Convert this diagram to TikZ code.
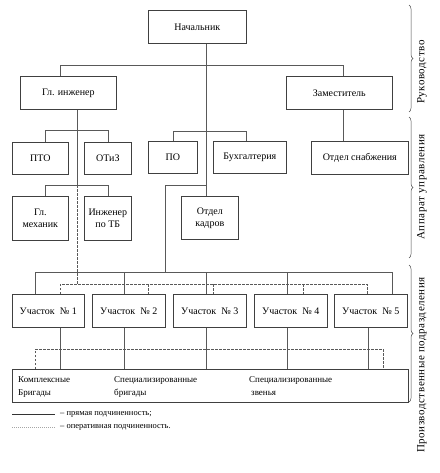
\documentclass[tikz,border=0pt]{standalone}
\usepackage{fontspec}
\setmainfont{Liberation Serif}
\usetikzlibrary{decorations.pathreplacing}
\begin{document}
\begin{tikzpicture}[x=1pt,y=-1pt,
  box/.style={draw=black!75, line width=0.6pt, fill=white, inner sep=1pt, align=center,
    font=\fontsize{10}{12}\selectfont, anchor=north west},
  ln/.style={draw=black!65, line width=0.6pt},
  dl/.style={draw=black!65, line width=0.6pt, dash pattern=on 2.5pt off 1.5pt},
  txt/.style={font=\fontsize{9}{13.5}\selectfont, align=left, anchor=north west, inner sep=0pt},
  side/.style={font=\fontsize{11}{12}\selectfont\addfontfeature{LetterSpace=5}, rotate=90, inner sep=0pt},
  brc/.style={draw=black!70, line width=0.5pt, decorate, decoration={brace, amplitude=4pt}}]
\useasboundingbox[fill=white] (0,0) rectangle (439,473);
% column / row helpers
\foreach \n/\v in {x35/35,x45/45,x60/60,x77/77,x108/108,x124/124,x148/148,x165/165,x173/173,x206/206,x213/213,x246/246,x287/287,x303/303,x343/343,x367/367,x368/368,x383/383,x392/392}
  {\coordinate (\n) at (\v,0);}
\foreach \n/\v in {y65/65,y130/130,y131/131,y185/185,y272/272,y284/284,y349/349}
  {\coordinate (\n) at (0,\v);}
% boxes
\node[box, minimum width=98pt, minimum height=33pt] (nach) at (148,10) {Начальник};
\node[box, minimum width=96pt, minimum height=33pt] (gi) at (20,76) {Гл. инженер};
\node[box, minimum width=106pt, minimum height=33pt] (zam) at (286,76) {Заместитель};
\node[box, minimum width=56pt, minimum height=32pt] (pto) at (12,142) {ПТО};
\node[box, minimum width=47pt, minimum height=32pt] (otiz) at (84,142) {ОТиЗ};
\node[box, minimum width=49pt, minimum height=32pt] (po) at (148,141) {ПО};
\node[box, minimum width=73pt, minimum height=32pt] (buh) at (213,141) {Бухгалтерия};
\node[box, minimum width=97pt, minimum height=33pt] (snab) at (311,141) {Отдел снабжения};
\node[box, minimum width=56pt, minimum height=44pt] (meh) at (12,196) {Гл.\\механик};
\node[box, minimum width=47pt, minimum height=44pt] (tb) at (84,196) {Инженер\\по ТБ};
\node[box, minimum width=57pt, minimum height=43pt] (kadr) at (181,196) {Отдел\\кадров};
\node[box, minimum width=72pt, minimum height=33pt] (u1) at (12,294) {Участок ~№ 1};
\node[box, minimum width=73pt, minimum height=33pt] (u2) at (92,294) {Участок ~№ 2};
\node[box, minimum width=73pt, minimum height=33pt] (u3) at (173,294) {Участок ~№ 3};
\node[box, minimum width=73pt, minimum height=33pt] (u4) at (254,294) {Участок ~№ 4};
\node[box, minimum width=73pt, minimum height=33pt] (u5) at (334,294) {Участок ~№ 5};
\node[box, minimum width=396pt, minimum height=33pt] (big) at (12,369) {};
\node[txt] (t1) at (18,376) {Комплексные\\Бригады};
\node[txt] (t2) at (114,376) {Специализированные\\бригады};
\node[txt] (t3) at (249,376) {Специализированные\\\hspace{2pt}звенья};
% direct lines
\draw[ln] (x206 |- nach.south) -- (x206 |- kadr.north);
\draw[ln] (x60 |- gi.north) |- (x343 |- y65) -- (x343 |- zam.north);
\draw[ln] (x343 |- zam.south) -- (x343 |- snab.north);
\draw[ln] (x77 |- gi.south) -- (x77 |- y185);
\draw[ln] (x45 |- pto.north) |- (x108 |- y130) -- (x108 |- otiz.north);
\draw[ln] (x45 |- meh.north) |- (x108 |- y185) -- (x108 |- tb.north);
\draw[ln] (x173 |- po.north) |- (x246 |- y131) -- (x246 |- buh.north);
\draw[ln] (x206 |- y185) -| (x165 |- y272);
\draw[ln] (x35 |- u1.north) |- (x392 |- y272) -- (x392 |- u5.north);
\foreach \c/\b in {x124/u2,x206/u3,x287/u4} \draw[ln] (\c |- y272) -- (\c |- \b.north);
\foreach \c/\b in {x60/u1,x124/u2,x206/u3,x287/u4,x368/u5} \draw[ln] (\c |- \b.south) -- (\c |- big.north);
% operative lines
\draw[dl] (x77 |- y185) -- (x77 |- y284);
\draw[dl] (x60 |- u1.north) |- (x367 |- y284) -- (x367 |- u5.north);
\foreach \c/\b in {x148/u2,x213/u3,x303/u4} \draw[dl] (\c |- y284) -- (\c |- \b.north);
\draw[dl] (x35 |- big.north) |- (x383 |- y349) -- (x383 |- big.north);
% braces and side labels
\draw[brc] (409,5) -- (409,112);
\draw[brc] (409,117) -- (409,258);
\draw[brc] (409,265) -- (409,402);
\node[side] (s1) at (422,72) {Руководство};
\node[side] (s2) at (422,187) {Аппарат управления};
\node[side] (s3) at (422,365) {Производственные подразделения};
% legend
\coordinate (la) at (12,414); \coordinate (lb) at (55,414);
\coordinate (lc) at (12,427); \coordinate (ld) at (55,427);
\draw[draw=black!80, line width=0.6pt] (la) -- (lb);
\draw[draw=black!35, line width=0.6pt, dash pattern=on 1pt off 1pt] (lc) -- (ld);
\node[anchor=west, inner sep=0pt, font=\fontsize{8.5}{10}\selectfont] (l1) at (60,414) {– прямая подчиненность;};
\node[anchor=west, inner sep=0pt, font=\fontsize{8.5}{10}\selectfont] (l2) at (60,427) {– оперативная подчиненность.};
\end{tikzpicture}
\end{document}
